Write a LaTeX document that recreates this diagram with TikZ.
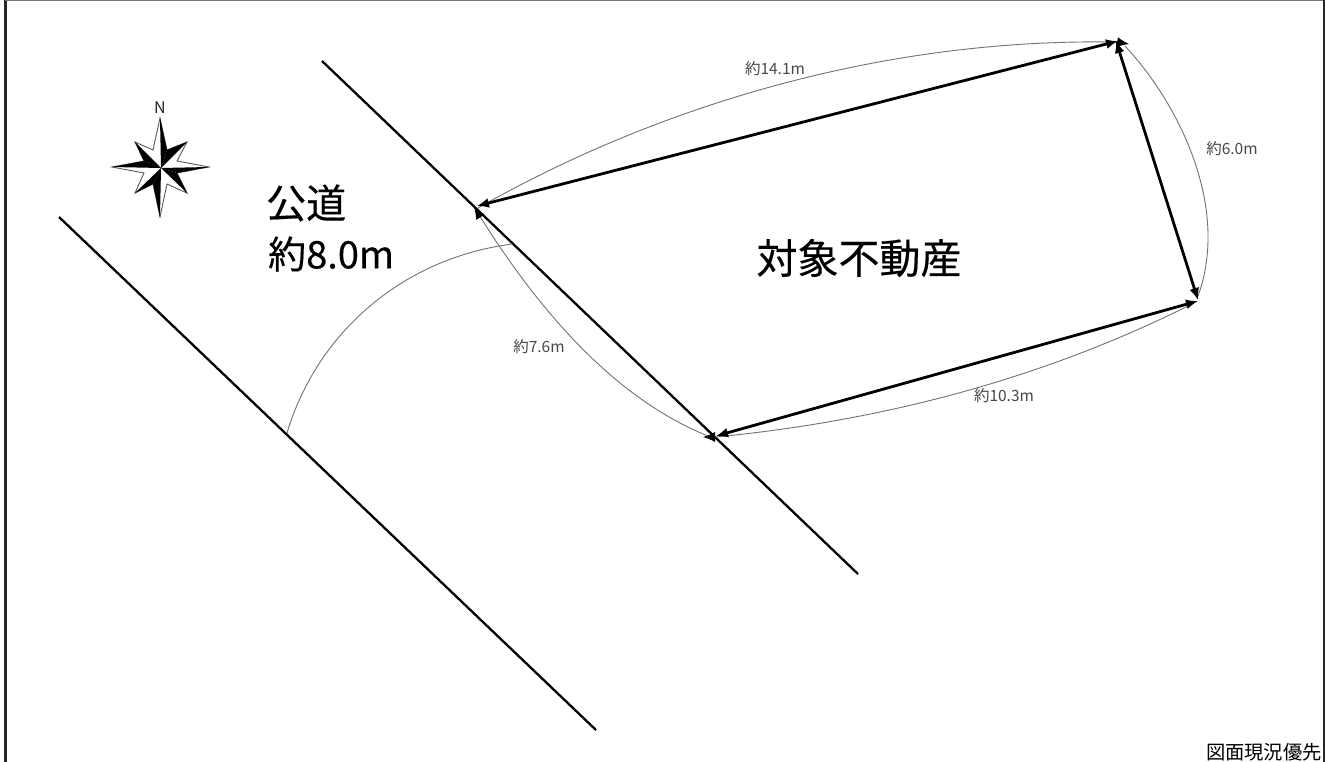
\documentclass[tikz,border=0pt]{standalone}
\usepackage{fontspec}
\usetikzlibrary{arrows.meta}
\setmainfont{Noto Sans CJK JP}
\newfontfamily\heavyjp[FakeBold=0.35]{Noto Sans CJK JP}
\tikzset{
  side/.style={line width=2.8pt,black,{Latex[length=12pt,width=10pt]}-{Latex[length=12pt,width=10pt]}},
  roadline/.style={line width=2.3pt,black},
  dim/.style={line width=0.9pt,color=black!55},
  dimhead/.style={dim,-{Latex[length=12pt,width=10pt,color=black]}},
  big/.style={inner sep=0pt,black},
  small/.style={font=\fontsize{15.5}{17}\selectfont,inner sep=0pt,color=black!72},
  star/.style={draw=black!65,line width=0.9pt,fill=white,line join=miter},
  starblack/.style={fill=black,draw=none}
}
\begin{document}
\begin{tikzpicture}[x=1pt,y=-1pt]
\useasboundingbox (0,0) rectangle (1325,762);
\fill[white] (0,0) rectangle (1325,762);
% frame
\draw[line width=3pt,black!85] (5.5,762) -- (5.5,0);
\draw[line width=1.2pt,black!55] (5,0.6) -- (1325,0.6);
\draw[line width=2pt,black!85] (1323.5,0) -- (1323.5,762);
% corners
\coordinate (A) at (477,206);
\coordinate (A2) at (474,207);
\coordinate (B) at (1118,41);
\coordinate (B2) at (1129,44);
\coordinate (B3) at (1116,41);
\coordinate (C) at (1198,301);
\coordinate (C2) at (1198,300);
\coordinate (D) at (716,436);
\coordinate (D2) at (703,437);
\coordinate (R1a) at (322,61);
\coordinate (R1b) at (858,574);
\coordinate (R2a) at (59,217);
\coordinate (R2b) at (596,730);
\coordinate (Wa) at (512,244);
\coordinate (Wb) at (287,433);
% road lines
\draw[roadline] (R1a) -- (R1b);
\draw[roadline] (R2a) -- (R2b);
% width arc
\draw[dim] (Wb) .. controls (318,330) and (405,258) .. (Wa);
% dimension arcs
\coordinate (a1) at (1116,42);
\draw[dimhead] (478,208) .. controls (636,118) and (860,38) .. (a1) -- (B2);
\draw[dim] (1125,46) .. controls (1180,105) and (1230,208) .. (1198,296);
\coordinate (a3) at (716,437);
\draw[dimhead] (1194,303) .. controls (1049,376) and (890,420) .. (a3) -- (D2);
\draw[dimhead] (708,436) .. controls (606,395) and (530,296) .. (A2);
% sides
\draw[side] (A) -- (B);
\draw[side] (B3) -- (C2);
\draw[side] (C) -- (D);
% labels
\node[small] (l1) at (775,69) {約14.1m};
\node[small] (l2) at (1232,149) {約6.0m};
\node[small] (l3) at (1004,396) {約10.3m};
\node[small] (l4) at (539,347) {約7.6m};
\node[big,anchor=west,font=\heavyjp\fontsize{40}{46}\selectfont] (road1) at (266,203) {公道};
\node[big,anchor=west,font=\heavyjp\fontsize{38}{46}\selectfont] (road2) at (268,254) {約8.0m};
\node[big,font=\heavyjp\fontsize{41}{48}\selectfont] (subject) at (859,258) {対象不動産};
\node[font=\fontsize{19.3}{21}\selectfont,inner sep=0pt,anchor=east,black] (note) at (1322,752) {図面現況優先};
% compass
\coordinate (o) at (161,168);
\node[font=\fontsize{16}{18}\selectfont,inner sep=0pt,black!85] (north) at (160,108) {N};
\draw[star] (160,118) -- (167,150) -- (187,142) -- (177,161) -- (209,167) -- (177,173) -- (187,193) -- (167,184) -- (160,217) -- (153,184) -- (135,193) -- (144,173) -- (112,167) -- (144,161) -- (135,142) -- (153,150) -- cycle;
\fill[starblack] (o) -- (160,118) -- (167,150) -- cycle;
\fill[starblack] (o) -- (187,142) -- (167,150) -- cycle;
\fill[starblack] (o) -- (209,167) -- (177,173) -- cycle;
\fill[starblack] (o) -- (187,193) -- (177,173) -- cycle;
\fill[starblack] (o) -- (160,217) -- (153,184) -- cycle;
\fill[starblack] (o) -- (135,193) -- (153,184) -- cycle;
\fill[starblack] (o) -- (112,167) -- (144,161) -- cycle;
\fill[starblack] (o) -- (135,142) -- (144,161) -- cycle;
\end{tikzpicture}
\end{document}
